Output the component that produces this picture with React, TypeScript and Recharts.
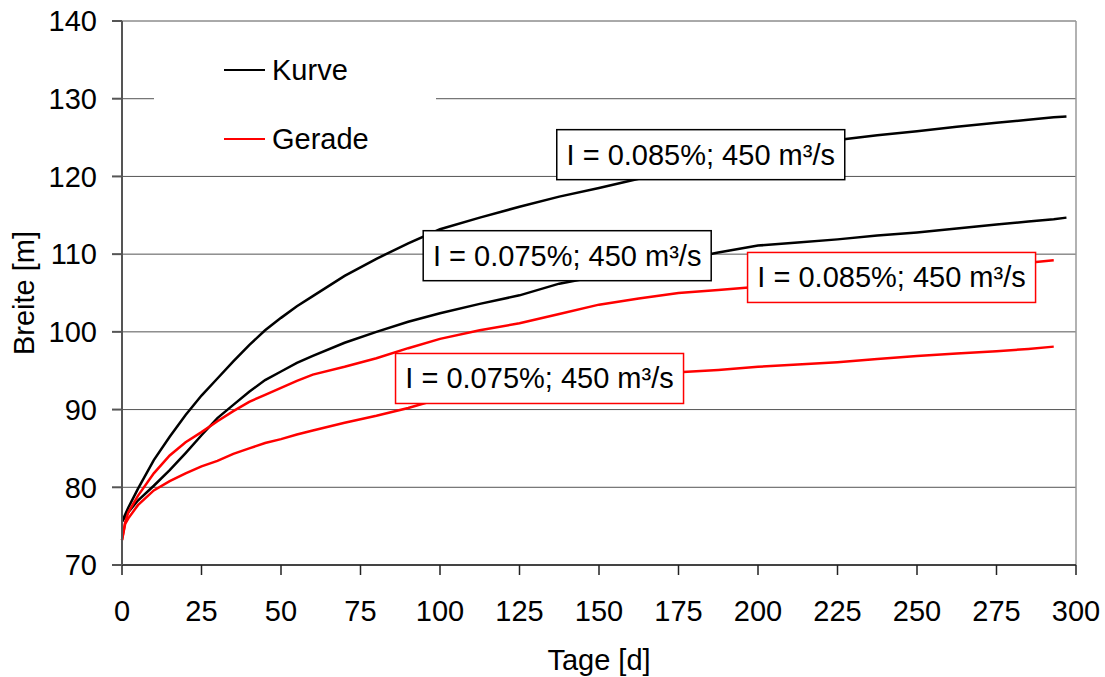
import { CartesianGrid, Line, LineChart, ReferenceDot, ReferenceLine, XAxis, YAxis } from 'recharts';

// Tage [d] and Breite [m]
const days = [0, 1, 2, 5, 10, 15, 20, 25, 30, 35, 40, 45, 50, 55, 60, 70, 80, 90, 100, 112.5, 125, 137.5, 150, 162.5, 175, 187.5, 200, 212.5, 225, 237.5, 250, 262.5, 275, 285, 293, 297];
const kurve085 = [75.6, 76.5, 77.4, 79.8, 83.5, 86.5, 89.3, 91.8, 94.0, 96.2, 98.3, 100.2, 101.8, 103.3, 104.6, 107.2, 109.4, 111.4, 113.2, 114.7, 116.1, 117.4, 118.5, 119.7, 120.8, 121.9, 122.9, 123.9, 124.7, 125.3, 125.8, 126.4, 126.9, 127.3, 127.6, 127.7];
const kurve075 = [75.6, 76.2, 76.8, 78.3, 80.2, 82.2, 84.4, 86.7, 88.9, 90.6, 92.3, 93.8, 94.9, 96.0, 96.9, 98.6, 100.0, 101.3, 102.4, 103.6, 104.7, 106.2, 107.2, 108.2, 109.2, 110.2, 111.1, 111.5, 111.9, 112.4, 112.8, 113.3, 113.8, 114.2, 114.5, 114.7];
const gerade085 = [73.2, 75.5, 76.8, 78.9, 81.8, 84.1, 85.8, 87.1, 88.5, 89.8, 91.0, 91.9, 92.8, 93.7, 94.5, 95.5, 96.6, 97.9, 99.1, 100.2, 101.1, 102.3, 103.5, 104.3, 105.0, 105.4, 105.8, 106.3, 106.8, 107.3, 107.7, 108.1, 108.6, 108.9, 109.2, null];
const gerade075 = [73.2, 75.3, 76.0, 77.7, 79.6, 80.8, 81.8, 82.7, 83.4, 84.3, 85.0, 85.7, 86.2, 86.8, 87.3, 88.3, 89.2, 90.2, 91.4, 92.3, 93.0, 93.6, 94.1, 94.5, 94.8, 95.1, 95.5, 95.8, 96.1, 96.5, 96.9, 97.2, 97.5, 97.8, 98.1, null];

const xTicks = [0, 25, 50, 75, 100, 125, 150, 175, 200, 225, 250, 275, 300];
const yTicks = [70, 80, 90, 100, 110, 120, 130, 140];

const legendItems = [
  { name: 'Kurve', color: '#000000' },
  { name: 'Gerade', color: '#ff0000' },
];

// text boxes, anchored in data coordinates (day, width)
const notes = [
  { day: 182, value: 122.8, text: 'I = 0.085%; 450 m³/s', color: '#000000' },
  { day: 140, value: 109.8, text: 'I = 0.075%; 450 m³/s', color: '#000000' },
  { day: 242, value: 107.0, text: 'I = 0.085%; 450 m³/s', color: '#ff0000' },
  { day: 131.3, value: 94.0, text: 'I = 0.075%; 450 m³/s', color: '#ff0000' },
];

const rows = days.map((d, i) => ({
  day: d,
  k085: kurve085[i],
  k075: kurve075[i],
  g085: gerade085[i],
  g075: gerade075[i],
}));

const FONT = '"Liberation Sans", Arial, sans-serif';

function NoteBox(props: any) {
  const { cx, cy, text, color } = props;
  const w = 288;
  const h = 50;
  return (
    <g>
      <rect x={cx - w / 2} y={cy - h / 2} width={w} height={h} fill="#fff" stroke={color} strokeWidth={1.5} />
      <text x={cx} y={cy + 10} textAnchor="middle" fontSize={29} fill="#000" fontFamily={FONT}>
        {text}
      </text>
    </g>
  );
}

export default function App() {
  return (
    <div style={{ position: 'absolute', left: 0, top: 0, width: 1105, height: 677, fontFamily: FONT, background: '#fff' }}>
      <LineChart width={1105} height={677} data={rows} margin={{ top: 21, right: 29, bottom: 0, left: 0 }}>
        <CartesianGrid vertical={false} stroke="#555" strokeWidth={1} />
        <XAxis
          dataKey="day"
          type="number"
          domain={[0, 300]}
          ticks={xTicks}
          height={112}
          tickSize={10}
          tickMargin={25}
          stroke="#222"
          strokeWidth={1.5}
          tick={{ fontSize: 29, fill: '#000' }}
          label={({ viewBox }: any) => (
            <text x={viewBox.x + viewBox.width / 2} y={670} textAnchor="middle" fontSize={29} fill="#000" fontFamily={FONT}>
              Tage [d]
            </text>
          )}
        />
        <YAxis
          type="number"
          domain={[70, 140]}
          ticks={yTicks}
          width={122}
          tickSize={10}
          tickMargin={15}
          stroke="#555"
          strokeWidth={2}
          tick={{ fontSize: 29, fill: '#000' }}
          label={({ viewBox }: any) => {
            const cy = viewBox.y + viewBox.height / 2;
            return (
              <text x={34} y={cy} transform={`rotate(-90 34 ${cy})`} textAnchor="middle" fontSize={29} fill="#000" fontFamily={FONT}>
                Breite [m]
              </text>
            );
          }}
        />
        <ReferenceLine x={300} stroke="#999" strokeWidth={1.5} />
        <Line type="linear" dataKey="k085" stroke="#000" strokeWidth={2.5} dot={false} isAnimationActive={false} />
        <Line type="linear" dataKey="k075" stroke="#000" strokeWidth={2.5} dot={false} isAnimationActive={false} />
        <Line type="linear" dataKey="g085" stroke="#ff0000" strokeWidth={2.5} dot={false} isAnimationActive={false} />
        <Line type="linear" dataKey="g075" stroke="#ff0000" strokeWidth={2.5} dot={false} isAnimationActive={false} />
        {notes.map((n, i) => (
          <ReferenceDot
            key={i}
            x={n.day}
            y={n.value}
            zIndex={1500}
            shape={(p: any) => <NoteBox {...p} text={n.text} color={n.color} />}
          />
        ))}
      </LineChart>
      <div style={{ position: 'absolute', left: 154, top: 35, width: 282, height: 130, background: '#fff', paddingTop: 18, boxSizing: 'border-box' }}>
        {legendItems.map((it, i) => (
          <div key={it.name} style={{ display: 'flex', alignItems: 'center', height: 34, marginBottom: i === 0 ? 35 : 0 }}>
            <div style={{ marginLeft: 70, width: 41, height: 2.5, background: it.color }} />
            <span style={{ marginLeft: 7, fontSize: 29, color: '#000', lineHeight: '34px' }}>{it.name}</span>
          </div>
        ))}
      </div>
    </div>
  );
}
